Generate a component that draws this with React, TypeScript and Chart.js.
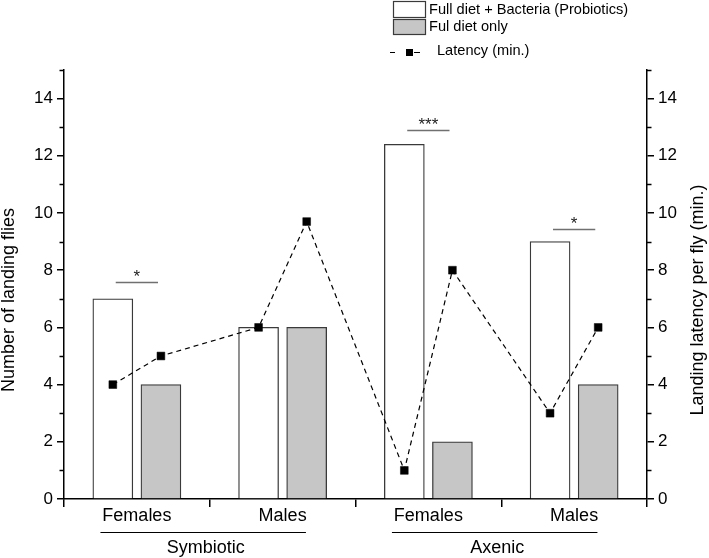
import React, { useEffect, useRef } from "react";
import { Chart, registerables } from "chart.js";

Chart.register(...registerables);

// ---- data ----
const categories = ["Females", "Males", "Females", "Males"];
const groups = ["Symbiotic", "Axenic"];
const groupFirst = [0, 2];
const groupLast = [1, 3];
const probiotics = [7, 6, 12.4, 9];
const dietOnly = [4, 6, 2, 4];
const latencyProbiotics = [4, 6, 1, 3];
const latencyDietOnly = [5, 9.7, 8, 6];
const sigCategory = [0, 2, 3];
const sigLevel = [7.6, 12.9, 9.45];
const sigLabel = ["*", "***", "*"];
const legendLabels = ["Full diet + Bacteria (Probiotics)", "Ful diet only", "Latency (min.)"];
const yLeftTitle = "Number of landing flies";
const yRightTitle = "Landing latency per fly (min.)";

const FONT = 'Arial, "Liberation Sans", sans-serif';
const GRAY = "#c6c6c6";
const BAR_BORDER = "#3a3a3a";
const PAIR_OFFSET = 0.165; // bar offset from category centre, in category units
const BAR_PX = 40;

const overlay = {
  id: "overlay",
  afterDraw(chart: any) {
    const ctx = chart.ctx as CanvasRenderingContext2D;
    const x = chart.scales.xc;
    const y = chart.scales.y;
    const y1 = chart.scales.y1;
    const w = x.width / categories.length;
    ctx.save();

    // minor ticks
    ctx.strokeStyle = "#000";
    ctx.lineWidth = 1.5;
    for (let v = y.min + 1; v <= y.max; v += 2) {
      const py = Math.round(y.getPixelForValue(v)) + 0.5;
      ctx.beginPath();
      ctx.moveTo(y.right - 4.5, py);
      ctx.lineTo(y.right, py);
      ctx.stroke();
      const py1 = Math.round(y1.getPixelForValue(v)) + 0.5;
      ctx.beginPath();
      ctx.moveTo(y1.left, py1);
      ctx.lineTo(y1.left + 4.5, py1);
      ctx.stroke();
    }

    // significance markers
    for (let i = 0; i < sigCategory.length; i++) {
      const cx = x.getPixelForValue(sigCategory[i]);
      const py = Math.round(y.getPixelForValue(sigLevel[i])) + 0.5;
      ctx.strokeStyle = "#707070";
      ctx.lineWidth = 1.3;
      ctx.beginPath();
      ctx.moveTo(cx - 0.145 * w, py);
      ctx.lineTo(cx + 0.145 * w, py);
      ctx.stroke();
      ctx.fillStyle = "#222";
      ctx.font = `17px ${FONT}`;
      ctx.textAlign = "center";
      ctx.textBaseline = "alphabetic";
      ctx.fillText(sigLabel[i], cx, py - 1);
    }

    // group labels
    for (let g = 0; g < groups.length; g++) {
      const a = x.getPixelForValue(groupFirst[g]);
      const b = x.getPixelForValue(groupLast[g]);
      ctx.strokeStyle = "#000";
      ctx.lineWidth = 1;
      const ly = 532.5;
      ctx.beginPath();
      ctx.moveTo(a - 0.25 * w, ly);
      ctx.lineTo(b + 0.16 * w, ly);
      ctx.stroke();
      ctx.fillStyle = "#000";
      ctx.font = `18px ${FONT}`;
      ctx.textAlign = "center";
      ctx.textBaseline = "middle";
      ctx.fillText(groups[g], (a + b) / 2 - 4, 548);
    }

    // axis titles
    ctx.fillStyle = "#000";
    ctx.font = `18px ${FONT}`;
    ctx.textAlign = "center";
    ctx.textBaseline = "middle";
    ctx.save();
    ctx.translate(9, 300);
    ctx.rotate(-Math.PI / 2);
    ctx.fillText(yLeftTitle, 0, 0);
    ctx.restore();
    ctx.save();
    ctx.translate(698, 300);
    ctx.rotate(-Math.PI / 2);
    ctx.fillText(yRightTitle, 0, 0);
    ctx.restore();

    // legend
    ctx.lineWidth = 1.2;
    ctx.strokeStyle = BAR_BORDER;
    ctx.fillStyle = "#fff";
    ctx.fillRect(393.5, 1.5, 32, 16);
    ctx.strokeRect(393.5, 1.5, 32, 16);
    ctx.fillStyle = GRAY;
    ctx.fillRect(393.5, 19.5, 32, 15);
    ctx.strokeRect(393.5, 19.5, 32, 15);
    ctx.fillStyle = "#000";
    ctx.font = `14.6px ${FONT}`;
    ctx.textAlign = "left";
    ctx.textBaseline = "middle";
    ctx.fillText(legendLabels[0], 429, 10);
    ctx.fillText(legendLabels[1], 429, 27);
    ctx.fillText(legendLabels[2], 437, 51);
    ctx.strokeStyle = "#000";
    ctx.lineWidth = 1.2;
    ctx.beginPath();
    ctx.moveTo(390, 52.5);
    ctx.lineTo(395, 52.5);
    ctx.moveTo(414, 52.5);
    ctx.lineTo(420, 52.5);
    ctx.stroke();
    ctx.fillRect(406, 49, 7, 7);

    ctx.restore();
  },
};

export default function App() {
  const ref = useRef<HTMLCanvasElement | null>(null);
  useEffect(() => {
    if (!ref.current) return;
    const latencyPoints: { x: number; y: number }[] = [];
    const probPoints: { x: number; y: number }[] = [];
    const dietPoints: { x: number; y: number }[] = [];
    for (let i = 0; i < categories.length; i++) {
      latencyPoints.push({ x: i - PAIR_OFFSET, y: latencyProbiotics[i] });
      latencyPoints.push({ x: i + PAIR_OFFSET, y: latencyDietOnly[i] });
      probPoints.push({ x: i - PAIR_OFFSET, y: probiotics[i] });
      dietPoints.push({ x: i + PAIR_OFFSET, y: dietOnly[i] });
    }
    const chart = new Chart(ref.current, {
      type: "bar",
      data: {
        labels: categories,
        datasets: [
          {
            type: "line",
            label: legendLabels[2],
            data: latencyPoints as any,
            xAxisID: "x",
            yAxisID: "y1",
            borderColor: "#000",
            borderWidth: 1.2,
            borderDash: [5, 4],
            pointStyle: "rect",
            pointRadius: 5.5,
            pointBorderWidth: 0.5,
            pointBackgroundColor: "#000",
            pointBorderColor: "#000",
            fill: false,
            tension: 0,
            order: 0,
          } as any,
          {
            label: legendLabels[0],
            data: probPoints as any,
            backgroundColor: "#fff",
            borderColor: BAR_BORDER,
            borderWidth: 1.3,
            grouped: false,
            barThickness: BAR_PX,
            xAxisID: "x",
            yAxisID: "y",
            order: 1,
          } as any,
          {
            label: legendLabels[1],
            data: dietPoints as any,
            backgroundColor: GRAY,
            borderColor: BAR_BORDER,
            borderWidth: 1.3,
            grouped: false,
            barThickness: BAR_PX,
            xAxisID: "x",
            yAxisID: "y",
            order: 2,
          } as any,
        ],
      },
      options: {
        responsive: false,
        animation: false,
        devicePixelRatio: 1,
        layout: { padding: { top: 70, left: 0, right: 0, bottom: 0 } },
        plugins: {
          legend: { display: false },
          tooltip: { enabled: false },
          title: { display: false },
        },
        scales: {
          x: {
            type: "linear",
            display: false,
            min: -0.5,
            max: categories.length - 0.5,
            offset: false,
          },
          xc: {
            type: "category",
            axis: "x",
            position: "bottom",
            labels: categories,
            offset: true,
            grid: {
              display: true,
              offset: true,
              drawOnChartArea: false,
              drawTicks: true,
              tickLength: 8,
              color: "#000",
              lineWidth: 1.5,
            },
            border: { display: true, color: "#000", width: 1.5 },
            ticks: {
              color: "#000",
              font: { family: FONT, size: 18 },
              padding: -2,
              maxRotation: 0,
              autoSkip: false,
            },
            afterFit(scale: any) {
              scale.height = 59;
            },
          },
          y: {
            type: "linear",
            position: "left",
            min: 0,
            max: 15,
            grid: {
              drawOnChartArea: false,
              tickLength: 7,
              color: "#000",
              lineWidth: 1.5,
            },
            border: { display: true, color: "#000", width: 1.5 },
            ticks: {
              stepSize: 2,
              includeBounds: false,
              color: "#000",
              font: { family: FONT, size: 17 },
              padding: 4,
            },
            afterFit(scale: any) {
              scale.width = 64;
            },
          },
          y1: {
            type: "linear",
            position: "right",
            min: 0,
            max: 15,
            grid: {
              drawOnChartArea: false,
              tickLength: 7,
              color: "#000",
              lineWidth: 1.5,
            },
            border: { display: true, color: "#000", width: 1.5 },
            ticks: {
              stepSize: 2,
              includeBounds: false,
              color: "#000",
              font: { family: FONT, size: 17 },
              padding: 4,
            },
            afterFit(scale: any) {
              scale.width = 62;
            },
          },
        },
      } as any,
      plugins: [overlay],
    });
    return () => chart.destroy();
  }, []);
  return (
    <div style={{ position: "absolute", left: 0, top: 0, width: 709, height: 558, background: "#fff" }}>
      <canvas ref={ref} width={709} height={558} style={{ display: "block" }} />
    </div>
  );
}
